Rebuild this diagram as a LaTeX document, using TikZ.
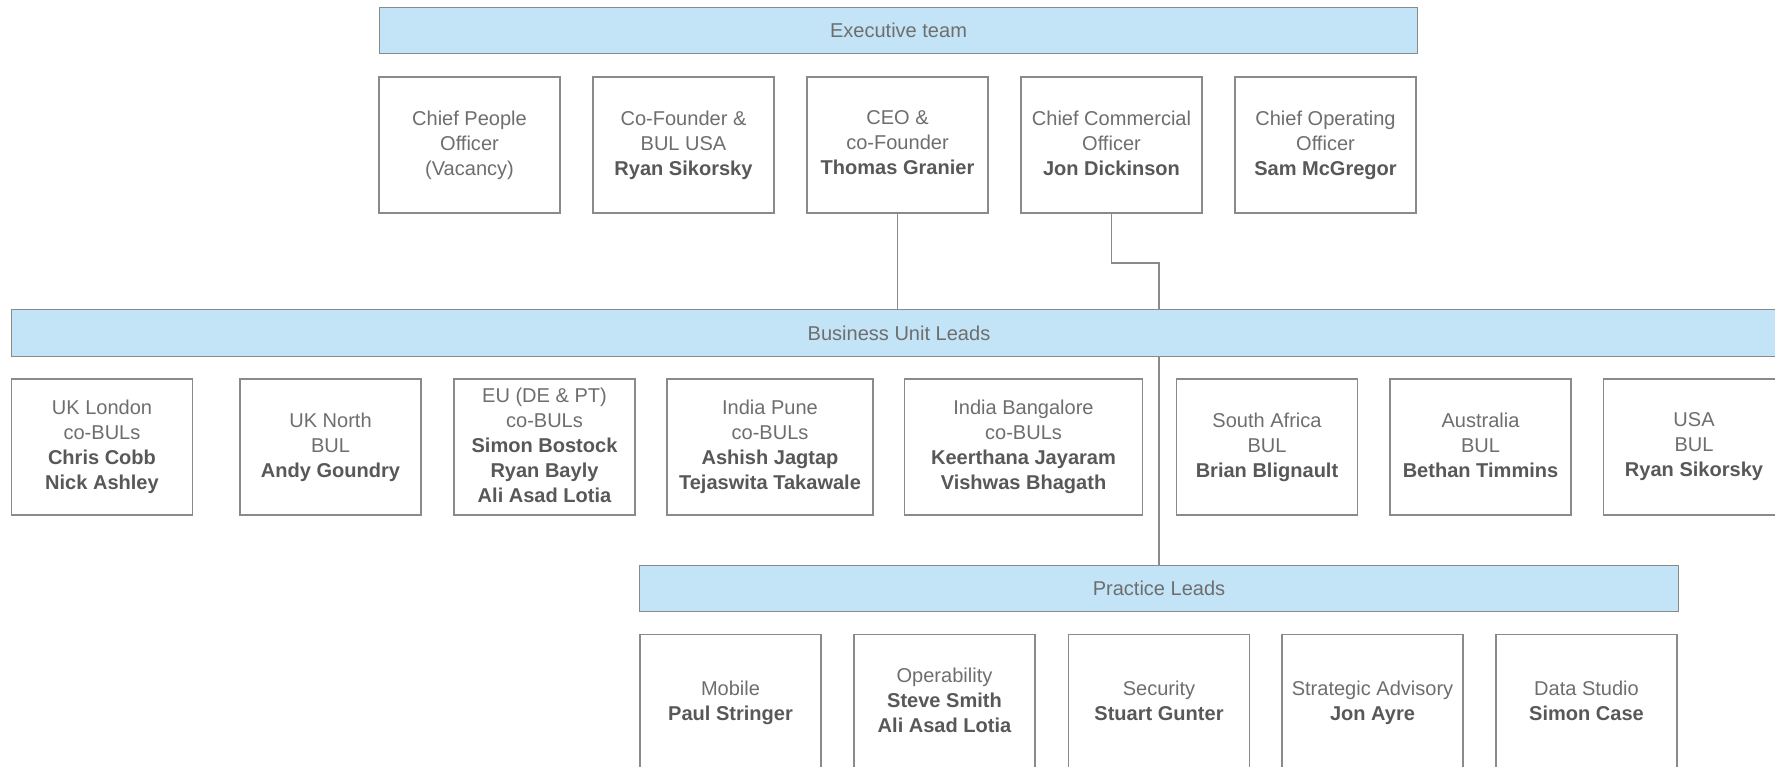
\documentclass[tikz,border=0pt]{standalone}
\usepackage{fontspec}
\setmainfont{Liberation Sans}
\usetikzlibrary{backgrounds}
\definecolor{barblue}{HTML}{C3E4F6}
\definecolor{edgegray}{HTML}{8A8A8A}
\definecolor{txtgray}{HTML}{6E6E6E}
\definecolor{whogray}{HTML}{585858}
\newcommand{\who}[1]{{\bfseries\color{whogray}#1}}

\begin{document}
\begin{tikzpicture}[
    font=\fontsize{11.4}{14.2}\selectfont,
    header/.style={rectangle, draw=edgegray, line width=0.7pt, fill=barblue, text=txtgray,
        minimum height=0.93cm, inner sep=0pt},
    role/.style={rectangle, draw=edgegray, line width=0.7pt, fill=white, text=txtgray,
        align=center, minimum width=3.62cm, minimum height=2.72cm, inner sep=0pt,
        execute at begin node=\rule{0pt}{13.6pt}, execute at end node=\vphantom{g}},
    link/.style={draw=edgegray, line width=0.7pt}
]
\useasboundingbox (0,0) rectangle (35.5,-15.34);

% executive team
\node (exec)[header, minimum width=20.76cm] at (17.97, -0.61) {Executive team};
\node (cpo)[role] at (9.39, -2.9) {Chief People\\Officer\\(Vacancy)};
\node (cofounder)[role] at (13.67, -2.9) {Co-Founder \&\\BUL USA\\\who{Ryan Sikorsky}};
\node (ceo)[role] at (17.95, -2.9) {CEO \&\\co-Founder\\\who{Thomas Granier}};
\node (cco)[role] at (22.23, -2.9) {Chief Commercial\\Officer\\\who{Jon Dickinson}};
\node (coo)[role] at (26.51, -2.9) {Chief Operating\\Officer\\\who{Sam McGregor}};

% business unit leads
\node (bul)[header, minimum width=35.5cm] at (17.98, -6.66) {Business Unit Leads};
\node (london)[role] at (2.04, -8.94) {UK London\\co-BULs\\\who{Chris Cobb}\\\who{Nick Ashley}};
\node (north)[role] at (6.61, -8.94) {UK North\\BUL\\\who{Andy Goundry}};
\node (eu)[role] at (10.89, -8.94) {EU (DE \& PT)\\co-BULs\\\who{Simon Bostock}\\\who{Ryan Bayly}\\\who{Ali Asad Lotia}};
\node (pune)[role, minimum width=4.12cm] at (15.40, -8.94) {India Pune\\co-BULs\\\who{Ashish Jagtap}\\\who{Tejaswita Takawale}};
\node (bangalore)[role, minimum width=4.76cm] at (20.47, -8.94) {India Bangalore\\co-BULs\\\who{Keerthana Jayaram}\\\who{Vishwas Bhagath}};
\node (safrica)[role] at (25.34, -8.94) {South Africa\\BUL\\\who{Brian Blignault}};
\node (australia)[role] at (29.61, -8.94) {Australia\\BUL\\\who{Bethan Timmins}};
\node (usa)[role] at (33.88, -8.94) {USA\\BUL\\\who{Ryan Sikorsky}};

% practice leads
\node (prl)[header, minimum width=20.77cm] at (23.18, -11.77) {Practice Leads};
\node (mobile)[role] at (14.61, -14.05) {Mobile\\\who{Paul Stringer}};
\node (operability)[role] at (18.89, -14.05) {Operability\\\who{Steve Smith}\\\who{Ali Asad Lotia}};
\node (security)[role] at (23.18, -14.05) {Security\\\who{Stuart Gunter}};
\node (advisory)[role] at (27.45, -14.05) {Strategic Advisory\\\who{Jon Ayre}};
\node (datastudio)[role] at (31.73, -14.05) {Data Studio\\\who{Simon Case}};

\coordinate (bend) at (23.18, -5.26);

\begin{pgfonlayer}{background}
\draw[link] (ceo.south) -- (ceo.south |- bul.north);
\draw[link] (cco.south) |- (bend) -- (prl.north);
\end{pgfonlayer}

\end{tikzpicture}
\end{document}
